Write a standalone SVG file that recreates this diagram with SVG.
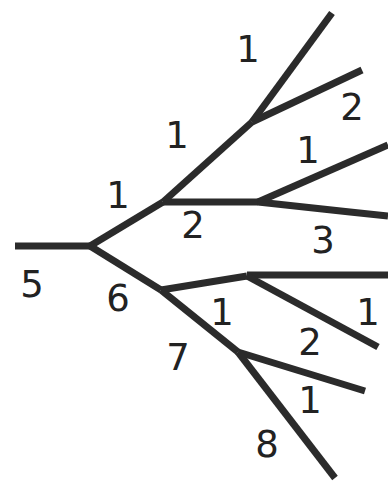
<svg xmlns="http://www.w3.org/2000/svg" width="388" height="482" viewBox="0 0 388 482">
<style>
.e{stroke:#2b2b2b;stroke-width:7;fill:none;stroke-linecap:butt;stroke-linejoin:round}
.t{font-family:"DejaVu Sans",Verdana,sans-serif;font-size:37px;fill:#222;text-anchor:middle}
</style>
<rect width="388" height="482" fill="#fff"/>
<g id="connectors">
<path class="e" d="M15,246 L90,246"/>
<path class="e" d="M90,246 L163,202"/>
<path class="e" d="M163,202 L252,122"/>
<path class="e" d="M252,122 L332,13"/>
<path class="e" d="M252,122 L362,70"/>
<path class="e" d="M163,202 L258,202"/>
<path class="e" d="M258,202 L388,145"/>
<path class="e" d="M258,202 L350,212 L388,216"/>
<path class="e" d="M90,246 L161,290"/>
<path class="e" d="M161,290 L247,276"/>
<path class="e" d="M247,275 L388,275"/>
<path class="e" d="M247,276 L378,347"/>
<path class="e" d="M161,290 L238,352"/>
<path class="e" d="M238,352 L365,391"/>
<path class="e" d="M238,352 L335,478"/>
</g>
<g id="labels">
<text class="t" x="248" y="62">1</text>
<text class="t" x="352" y="120">2</text>
<text class="t" x="177" y="148">1</text>
<text class="t" x="308" y="163">1</text>
<text class="t" x="118" y="208">1</text>
<text class="t" x="193" y="238">2</text>
<text class="t" x="323" y="253">3</text>
<text class="t" x="32" y="297">5</text>
<text class="t" x="118" y="311">6</text>
<text class="t" x="222" y="325">1</text>
<text class="t" x="368" y="325">1</text>
<text class="t" x="310" y="355">2</text>
<text class="t" x="178" y="370">7</text>
<text class="t" x="310" y="413">1</text>
<text class="t" x="267" y="457">8</text>
</g>
</svg>
